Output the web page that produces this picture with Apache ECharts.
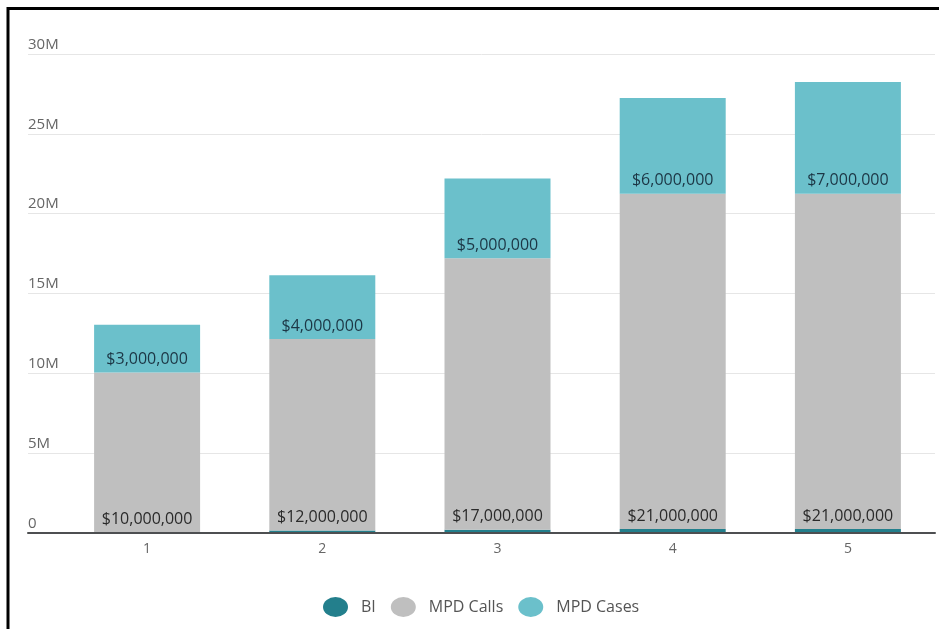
<!DOCTYPE html>
<html>
<head>
<meta charset="utf-8">
<script src="https://cdn.jsdelivr.net/npm/echarts@6/dist/echarts.min.js"></script>
<style>
html,body{margin:0;padding:0;background:#fff;}
#chart{width:939px;height:629px;}
</style>
</head>
<body>
<div id="chart"></div>
<script>
const categories = ['1', '2', '3', '4', '5'];
const biValues = [50000, 150000, 200000, 250000, 250000];
const callsValues = [10000000, 12000000, 17000000, 21000000, 21000000];
const casesValues = [3000000, 4000000, 5000000, 6000000, 7000000];
const yTicks = [0, 5000000, 10000000, 15000000, 20000000, 25000000, 30000000];

const FONT = '"Open Sans", sans-serif';
const money = v => '$' + Number(v).toLocaleString('en-US');
const yMin = yTicks[0], yMax = yTicks[yTicks.length - 1], yStep = yTicks[1] - yTicks[0];

const chart = echarts.init(document.getElementById('chart'), null, {renderer: 'canvas'});
chart.setOption({
  backgroundColor: '#fff',
  animation: false,
  textStyle: {fontFamily: FONT},
  graphic: [{
    type: 'rect', silent: true, z: 100,
    shape: {x: 8, y: 8.5, width: 1000, height: 1000},
    style: {fill: 'none', stroke: '#000', lineWidth: 3}
  }],
  grid: [
    {left: 28, right: 4, top: 54, bottom: 96},
    {left: 59.5, right: 3.5, top: 54, bottom: 96}
  ],
  xAxis: [
    {gridIndex: 0, type: 'category', data: [''],
     axisLine: {show: true, lineStyle: {color: '#4d4f51', width: 2}},
     axisTick: {show: false}, axisLabel: {show: false}, splitLine: {show: false}, z: 5},
    {gridIndex: 1, type: 'category', data: categories,
     axisLine: {show: false}, axisTick: {show: false},
     axisLabel: {color: '#666', fontSize: 14, margin: 9, fontFamily: FONT}}
  ],
  yAxis: [
    {gridIndex: 0, type: 'value', min: yMin, max: yMax, interval: yStep,
     axisLine: {show: false}, axisTick: {show: false},
     splitLine: {lineStyle: {color: '#e6e6e6', width: 1}},
     axisLabel: {inside: true, margin: 0, verticalAlign: 'bottom', color: '#666',
       fontSize: 15, fontFamily: FONT, padding: [0, 0, 2, 0],
       formatter: v => v === 0 ? '0' : (v / 1000000) + 'M'}},
    {gridIndex: 1, type: 'value', min: yMin, max: yMax, interval: yStep, show: false,
     splitLine: {show: false}}
  ],
  legend: {
    left: 318, top: 592,
    icon: 'path://M50,0A50,50,0,1,1,50,100A50,50,0,1,1,50,0Z',
    symbolKeepAspect: false,
    itemWidth: 25, itemHeight: 20, itemGap: 15,
    formatter: '{t|{name}}',
    textStyle: {rich: {t: {fontSize: 16, color: '#555', fontFamily: FONT, padding: [0, 0, 0, 8]}}},
    data: ['BI', 'MPD Calls', 'MPD Cases']
  },
  series: [
    {name: 'BI', type: 'bar', stack: 's', xAxisIndex: 1, yAxisIndex: 1,
     barWidth: 106, data: biValues, itemStyle: {color: '#237f8c'}},
    {name: 'MPD Calls', type: 'bar', stack: 's', xAxisIndex: 1, yAxisIndex: 1,
     barWidth: 106, data: callsValues, itemStyle: {color: '#bfbfbf'},
     label: {show: true, position: 'insideBottom', distance: 5, color: '#2a2a2a',
       fontSize: 16, fontFamily: FONT, formatter: p => money(p.value)}},
    {name: 'MPD Cases', type: 'bar', stack: 's', xAxisIndex: 1, yAxisIndex: 1,
     barWidth: 106, data: casesValues, itemStyle: {color: '#6bc0cb'},
     label: {show: true, position: 'insideBottom', distance: 5, color: '#1c3645',
       fontSize: 16, fontFamily: FONT, formatter: p => money(p.value)}}
  ]
});
</script>
</body>
</html>
